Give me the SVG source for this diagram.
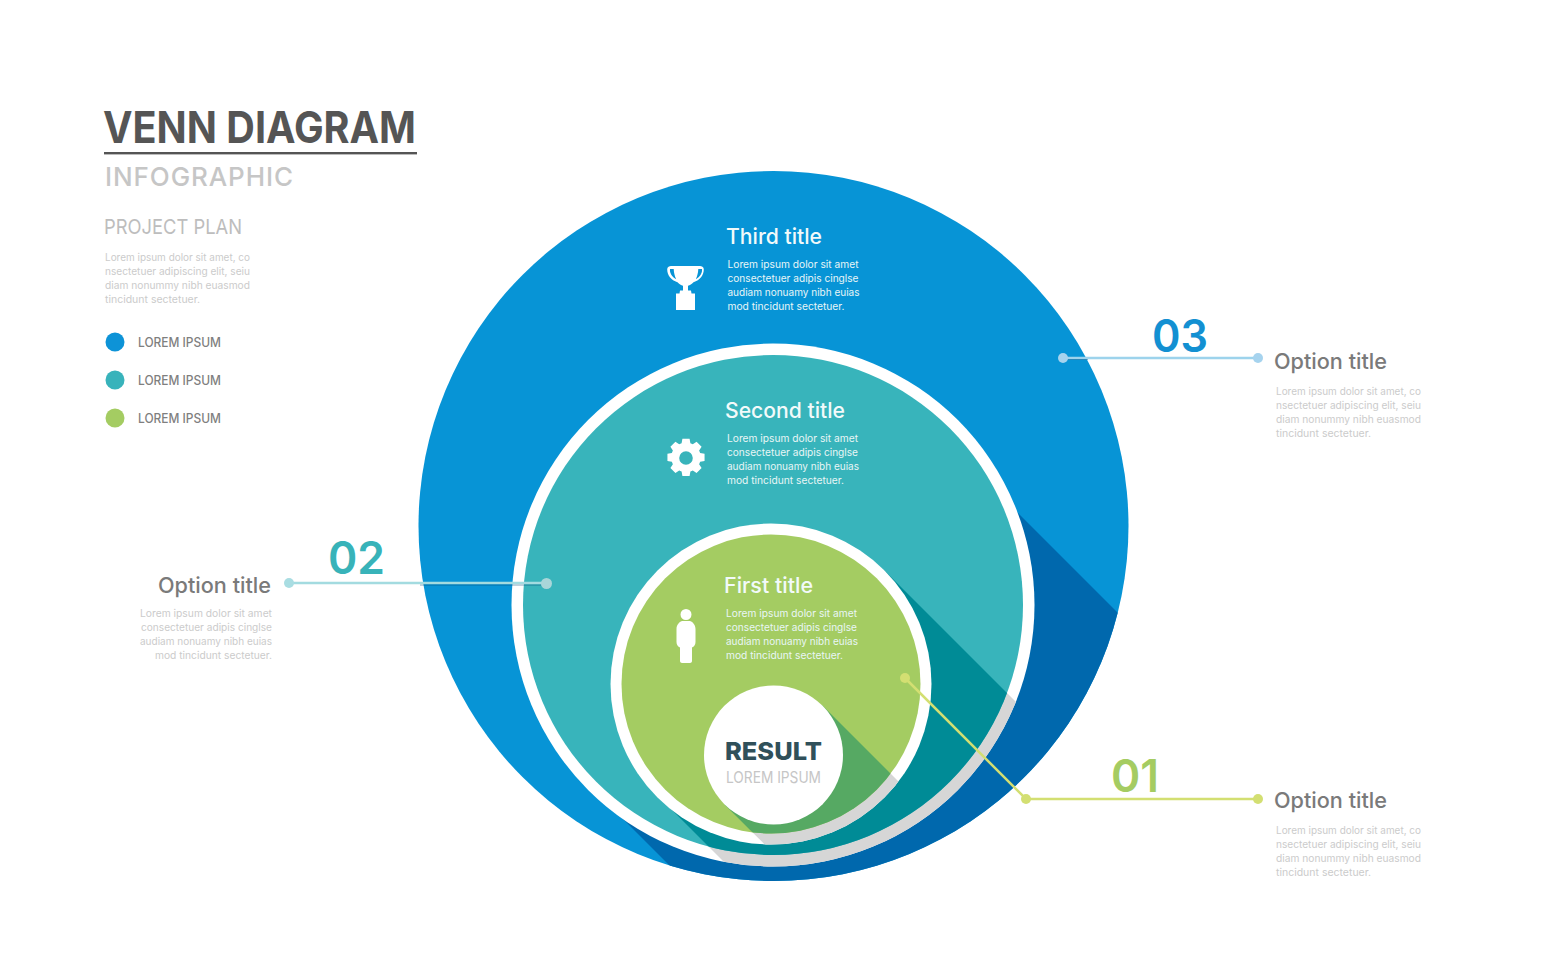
<svg xmlns="http://www.w3.org/2000/svg" xmlns:xlink="http://www.w3.org/1999/xlink" width="1547" height="980" viewBox="0 0 1547 980">
<style>
text{font-family:"Inter","Noto Sans","Liberation Sans",sans-serif}
.b{font-size:10.5px;fill:#e9f6f6}
.g{font-size:10.5px;fill:#cbcbcb}
.t{font-size:21px;fill:#f2fafa;font-weight:500}
.o{font-size:22px;fill:#7a7a7a;font-weight:500}
.n{font-size:45px;font-weight:600}
.l{font-size:12.5px;fill:#7f7f7f;font-weight:500}
.w{fill:#fff}
.e{text-anchor:end}
</style>
<defs>
<clipPath id="c1"><circle cx="773.5" cy="526" r="355"/></clipPath>
<clipPath id="c2o"><circle cx="773" cy="605" r="261.5"/></clipPath>
<clipPath id="c2i"><circle cx="773" cy="605" r="250"/></clipPath>
<clipPath id="c3o"><circle cx="771" cy="684" r="160.5"/></clipPath>
<clipPath id="c3i"><circle cx="771" cy="684" r="149.5"/></clipPath>
<polygon id="s3" points="884,570 1384,1070 1158,1296 658,796"/>
<g id="lr"><text class="g" x="0" y="0" textLength="145" lengthAdjust="spacingAndGlyphs">Lorem ipsum dolor sit amet, co</text><text class="g" x="0" y="14" textLength="145" lengthAdjust="spacingAndGlyphs">nsectetuer adipiscing elit, seiu</text><text class="g" x="0" y="28" textLength="145" lengthAdjust="spacingAndGlyphs">diam nonummy nibh euasmod</text><text class="g" x="0" y="42" textLength="95" lengthAdjust="spacingAndGlyphs">tincidunt sectetuer.</text></g>
<g id="lb"><text class="b" x="0" y="0" textLength="131" lengthAdjust="spacingAndGlyphs">Lorem ipsum dolor sit amet</text><text class="b" x="0" y="14" textLength="131" lengthAdjust="spacingAndGlyphs">consectetuer adipis cinglse</text><text class="b" x="0" y="28" textLength="132" lengthAdjust="spacingAndGlyphs">audiam nonuamy nibh euias</text><text class="b" x="0" y="42" textLength="117" lengthAdjust="spacingAndGlyphs">mod tincidunt sectetuer.</text></g>
</defs>

<g id="header">
<text x="103" y="143" font-size="44" font-weight="700" fill="#555" textLength="313" lengthAdjust="spacingAndGlyphs">VENN DIAGRAM</text>
<rect x="104" y="152" width="313" height="2.400" fill="#555"/>
<text x="105" y="185.500" font-size="26" font-weight="500" fill="#c6c6c6" textLength="188" lengthAdjust="spacing">INFOGRAPHIC</text>
<text x="104" y="234" font-size="20.500" fill="#bdbdbd" textLength="138" lengthAdjust="spacingAndGlyphs">PROJECT PLAN</text>
<use xlink:href="#lr" href="#lr" x="105" y="261"/>
</g>
<g id="legend">
<circle cx="115" cy="342" r="9.500" fill="#0d93d7"/><text class="l" x="138" y="346.500" textLength="83" lengthAdjust="spacingAndGlyphs">LOREM IPSUM</text>
<circle cx="115" cy="380" r="9.500" fill="#38b3bb"/><text class="l" x="138" y="384.500" textLength="83" lengthAdjust="spacingAndGlyphs">LOREM IPSUM</text>
<circle cx="115" cy="418" r="9.500" fill="#a4cc62"/><text class="l" x="138" y="422.500" textLength="83" lengthAdjust="spacingAndGlyphs">LOREM IPSUM</text>
</g>

<g id="circle-3">
<circle cx="773.500" cy="526" r="355" fill="#0794d6"/>
<polygon clip-path="url(#c1)" points="1000,495 1400,895 1200,1396 591,787" fill="#0068ad"/>
<text class="t" x="726" y="243.500" textLength="96" lengthAdjust="spacingAndGlyphs">Third title</text>
<use xlink:href="#lb" href="#lb" x="727.500" y="267.500"/>
<path class="w" d="M672 266h28c1.500 0 3.800 .8 3.800 3.200 0 6-3.800 11-10.300 13-1.800 2-3.500 3-5.500 3.500v4.800h3l.5 3h3.500v16.500h-19v-16.500h3.500l.5-3h3v-4.800c-2-.5-3.700-1.500-5.500-3.500-6.500-2-10.300-7-10.300-13 0-2.400 2.300-3.200 3.800-3.200zm-2 3c-.5 3.800 2 8 6.200 10.300-1.400-2.800-2.300-6.300-2.500-10.300zm32 0h-3.700c-.2 4-1.100 7.500-2.500 10.300 4.200-2.300 6.700-6.500 6.200-10.300z"/>
</g>

<g id="circle-2">
<circle cx="773" cy="605" r="261.500" fill="#fff"/>
<use xlink:href="#s3" href="#s3" clip-path="url(#c2o)" fill="#d6d6d6"/>
<circle cx="773" cy="605" r="250" fill="#38b4bb"/>
<use xlink:href="#s3" href="#s3" clip-path="url(#c2i)" fill="#008b96"/>
<text class="t" x="725" y="418" textLength="120" lengthAdjust="spacingAndGlyphs">Second title</text>
<use xlink:href="#lb" href="#lb" x="727" y="441.500"/>
<path class="w" transform="translate(686 458) scale(.8)" fill-rule="evenodd" d="M-4.500-24h9l1 5.500 3 1.300 4.700-3.100 6.300 6.300-3.100 4.700 1.300 3 5.500 1v9l-5.500 1-1.300 3 3.100 4.700-6.300 6.300-4.700-3.100-3 1.300-1 5.500h-9l-1-5.500-3-1.300-4.700 3.100-6.300-6.300 3.100-4.700-1.300-3-5.500-1v-9l5.500-1 1.300-3-3.100-4.700 6.300-6.300 4.700 3.100 3-1.300zM0-8.500a8.500 8.500 0 1 0 0 17a8.500 8.500 0 1 0 0-17z"/>
</g>

<g id="circle-1">
<circle cx="771" cy="684" r="160.500" fill="#fff"/>
<polygon clip-path="url(#c3o)" points="822,705 1122,1005 1024,1103 724,804" fill="#d6d6d6"/>
<circle cx="771" cy="684" r="149.500" fill="#a4cc62"/>
<polygon clip-path="url(#c3i)" points="822,705 1122,1005 1024,1103 724,804" fill="#56a963"/>
<text class="t" x="724" y="592.500" textLength="89" lengthAdjust="spacingAndGlyphs">First title</text>
<use xlink:href="#lb" href="#lb" x="726" y="617"/>
<path class="w" d="M686 609a5.500 5.500 0 1 1 0 11a5.500 5.500 0 1 1 0-11zM682 621h8c3 1 5.500 4 5.500 8v13c0 3-1.500 4.500-3.500 5.500v13.500c0 1-1 2-2 2h-8c-1 0-2-1-2-2v-13.500c-2-1-3.500-2.500-3.500-5.500v-13c0-4 2.500-7 5.500-8z"/>
</g>

<g id="result">
<circle cx="773.500" cy="755" r="69.500" fill="#fff"/>
<text x="773.500" y="760" text-anchor="middle" font-size="25" font-weight="800" fill="#30505a" textLength="97" lengthAdjust="spacingAndGlyphs">RESULT</text>
<text x="773.500" y="783" text-anchor="middle" font-size="16" fill="#c6c6c6" textLength="95" lengthAdjust="spacingAndGlyphs">LOREM IPSUM</text>
</g>

<g id="connectors" fill="none" stroke-width="2.500">
<path d="M420 585H541M1068 359.500H1088" stroke="#00477a" stroke-width="1.200" stroke-opacity=".5"/>
<path d="M1063 358H1258" stroke="#9dd3ec"/>
<path d="M289 583H546" stroke="#a3dbe0"/>
<path d="M905 678L1026 799H1258" stroke="#d3df72"/>
<g stroke="none">
<circle cx="1063" cy="358" r="5" fill="#a6d3ee"/><circle cx="1258" cy="358" r="5" fill="#a6d3ee"/>
<circle cx="289" cy="583" r="5" fill="#a9dde2"/><circle cx="546.500" cy="583.500" r="5.500" fill="#a9d6d9"/>
<circle cx="905" cy="678" r="5" fill="#d3df72"/><circle cx="1026" cy="799" r="5" fill="#d3df72"/><circle cx="1258" cy="799" r="5" fill="#d3df72"/>
</g>
</g>

<g id="option-03">
<text class="n" x="1152" y="352" fill="#1390d2" textLength="56" lengthAdjust="spacingAndGlyphs">03</text>
<text class="o" x="1274" y="369" textLength="113" lengthAdjust="spacingAndGlyphs">Option title</text>
<use xlink:href="#lr" href="#lr" x="1276" y="395"/>
</g>
<g id="option-02">
<text class="n" x="328" y="574" fill="#38b3b9" textLength="57" lengthAdjust="spacingAndGlyphs">02</text>
<text class="o e" x="271" y="592.500" textLength="113" lengthAdjust="spacingAndGlyphs">Option title</text>
<text class="g e" x="272" y="616.500" textLength="132" lengthAdjust="spacingAndGlyphs">Lorem ipsum dolor sit amet</text>
<text class="g e" x="272" y="630.500" textLength="131" lengthAdjust="spacingAndGlyphs">consectetuer adipis cinglse</text>
<text class="g e" x="272" y="644.500" textLength="132" lengthAdjust="spacingAndGlyphs">audiam nonuamy nibh euias</text>
<text class="g e" x="272" y="658.500" textLength="117" lengthAdjust="spacingAndGlyphs">mod tincidunt sectetuer.</text>
</g>
<g id="option-01">
<text class="n" x="1111" y="792" fill="#a5cc62" textLength="48" lengthAdjust="spacingAndGlyphs">01</text>
<text class="o" x="1274" y="808" textLength="113" lengthAdjust="spacingAndGlyphs">Option title</text>
<use xlink:href="#lr" href="#lr" x="1276" y="834"/>
</g>
</svg>
